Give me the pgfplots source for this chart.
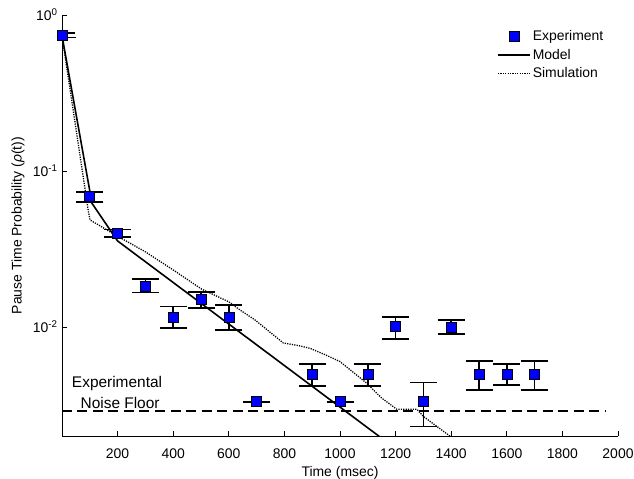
\documentclass[border=0pt]{standalone}
\usepackage{fontspec}
\setmainfont{Liberation Sans}
\usepackage{pgfplots}
\pgfplotsset{compat=1.18}
\usepackage{pgfplotstable}

\pgfplotsset{
  linelegend/.style={legend image code/.code={\draw[##1] (0bp,0bp) -- (32bp,0bp);}},
  marklegend/.style={legend image code/.code={\draw plot[mark=square*, mark size=5bp, mark options={fill=blue, draw=black, line width=0.6bp}] coordinates {(16bp,0bp)};}},
}

\pgfplotstableread{
x    y        ep       em
0    0.737    0.026    0.018
100  0.0685   0.0052   0.0055
200  0.0399   0.0023   0.0021
300  0.0183   0.0019   0.0017
400  0.0116   0.0019   0.0017
500  0.0151   0.0017   0.0019
600  0.0116   0.0022   0.0020
700  0.00332  0.0      0.0
900  0.00498  0.00079  0.00078
1000 0.00332  0.0      0.0
1100 0.00498  0.00079  0.00078
1200 0.01005  0.00159  0.00171
1300 0.00332  0.00108  0.00102
1400 0.0099   0.0012   0.00092
1500 0.005    0.00108  0.00106
1600 0.005    0.0008   0.00077
1700 0.005    0.00108  0.00106
}\expdata

\pgfplotstableread{
x    y
0    0.737
108  0.062
200  0.0356
1200 0.00166
}\modeldata

\pgfplotstableread{
x    y
0    0.737
95   0.055
101  0.0485
203  0.0379
299  0.0304
400  0.0232
502  0.0175
600  0.0145
640  0.01285
694  0.0111
796  0.0079
850  0.0076
892  0.0073
950  0.0066
1000 0.0060
1096 0.00436
1150 0.0035
1204 0.00297
1276 0.00297
1300 0.00267
1400 0.00197
}\simdata

\begin{document}
\begin{tikzpicture}
\path[use as bounding box] (-62bp,-43bp) rectangle (572bp,436bp);
\begin{axis}[
  at={(0,0)}, anchor=south west,
  scale only axis, width=556bp, height=421bp,
  ymode=log, xmin=0, xmax=2000, ymin=0.002, ymax=1,
  axis lines*=left,
  axis line style={black, line width=0.8bp},
  tick pos=left,
  tick align=inside,
  tick style={black, line width=0.7bp},
  major tick length=5bp, minor tick length=3bp,
  xtick={200,400,...,2000},
  ytick={1,0.1,0.01},
  yticklabels={10\textsuperscript{0},10\textsuperscript{-1},10\textsuperscript{-2}},
  /pgf/number format/assume math mode=true,
  /pgf/number format/1000 sep={},
  ticklabel style={font=\fontsize{14}{16}\selectfont},
  xticklabel style={yshift=-9bp},
  yticklabel style={xshift=-1bp},
  xlabel={Time (msec)},
  ylabel={Pause Time Probability (\textit{ρ}(t))},
  label style={font=\fontsize{14}{16}\selectfont},
  xlabel style={at={(axis description cs:0.5,-0.088)}, anchor=center},
  ylabel style={at={(axis description cs:-0.0791,0.5)}, anchor=center},
  legend style={draw=none, fill=none, at={(rel axis cs:0.777,0.973)}, anchor=north west,
    font=\fontsize{14}{16}\selectfont, row sep=3bp,
    nodes={inner sep=2bp}},
  legend cell align=left,
]
\addplot+[only marks, mark=square*, mark size=5bp, marklegend,
  mark options={fill=blue, draw=black, line width=0.6bp},
  error bars/.cd, y dir=both, y explicit,
  error bar style={black, line width=1.7bp},
  error mark options={black, rotate=90, mark size=13.5bp, line width=1.7bp}]
  table[x=x, y=y, y error plus=ep, y error minus=em] {\expdata};
\addlegendentry{Experiment}
\addplot[black, line width=1.6bp, mark=none, linelegend]
  table[x=x, y=y] {\modeldata};
\addlegendentry{Model}
\addplot[black, line width=1.3bp, dash pattern=on 1.2bp off 1.2bp, mark=none, linelegend]
  table[x=x, y=y] {\simdata};
\addlegendentry{Simulation}
\addplot[black, line width=2.6bp, dash pattern=on 10bp off 5.5bp, mark=none, forget plot]
  coordinates {(0,0.0029) (1955,0.0029)};
\node[font=\fontsize{15.5}{17}\selectfont] at (axis cs:198,0.00431) {Experimental};
\node[font=\fontsize{15.5}{17}\selectfont] at (axis cs:209,0.00327) {Noise Floor};
\end{axis}
\end{tikzpicture}
\end{document}
